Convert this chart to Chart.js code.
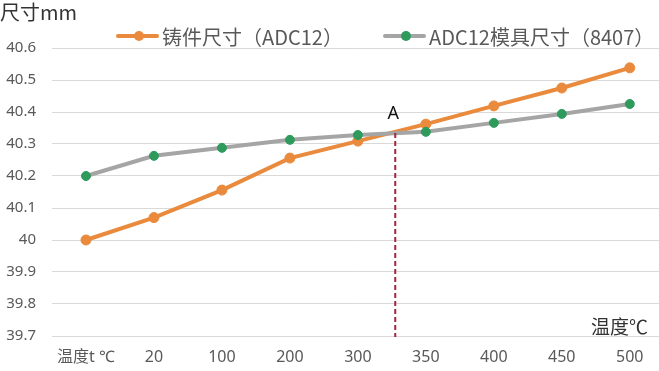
<!DOCTYPE html>
<html>
<head>
<meta charset="utf-8">
<script src="https://cdn.jsdelivr.net/npm/chart.js@4"></script>
<style>
  html, body { margin: 0; padding: 0; background: #fff; overflow: hidden; }
  canvas { display: block; }
</style>
</head>
<body>
<canvas id="myChart" width="659" height="371"></canvas>
<script>
const categories = ["温度t ℃", "20", "100", "200", "300", "350", "400", "450", "500"];
const castingSize = [40.0, 40.07, 40.156, 40.256, 40.309, 40.362, 40.419, 40.475, 40.538];
const moldSize = [40.2, 40.263, 40.288, 40.313, 40.328, 40.338, 40.366, 40.394, 40.425];
const seriesNames = ["铸件尺寸（ADC12）", "ADC12模具尺寸（8407）"];

const yMin = 39.7;
const yMax = 40.6;
const yStep = 0.1;

// plot runs off the right edge in the original, so the x range is cut short
const xMin = -0.5;
const xMax = 8.43;

// point A where the two lines cross (category index, value)
const crossX = 4.55;
const crossY = 40.334;

const orange = "#E98A3D";
const gray = "#A5A5A5";
const green = "#2E9A5C";

const cjk = "'Noto Sans CJK SC', 'Noto Sans', sans-serif";
Chart.defaults.font.family = "'Noto Sans', 'Noto Sans CJK SC', sans-serif";

const toPoints = (arr) => arr.map((v, i) => ({ x: i, y: v }));

// legend drawn by hand: line + marker + text, like the Excel one
const legendPlugin = {
  id: "lineLegend",
  afterDraw(chart) {
    const ctx = chart.ctx;
    const items = [
      { x: 118, ds: chart.data.datasets[0] },
      { x: 385, ds: chart.data.datasets[1] },
    ];
    const y = 36;
    ctx.save();
    items.forEach((it) => {
      ctx.strokeStyle = it.ds.borderColor;
      ctx.lineWidth = 4;
      ctx.lineCap = "round";
      ctx.beginPath();
      ctx.moveTo(it.x, y);
      ctx.lineTo(it.x + 39, y);
      ctx.stroke();
      ctx.fillStyle = it.ds.pointBackgroundColor;
      ctx.beginPath();
      ctx.arc(it.x + 21, y, 5, 0, Math.PI * 2);
      ctx.fill();
      ctx.fillStyle = "#595959";
      ctx.font = "20px " + cjk;
      ctx.textBaseline = "middle";
      ctx.textAlign = "left";
      ctx.fillText(it.ds.label, it.x + 44, y + 1);
    });
    ctx.restore();
  },
};

// dashed line down from point A, label A, and the x axis title
const markPlugin = {
  id: "crossMark",
  afterDatasetsDraw(chart) {
    const ctx = chart.ctx;
    const px = chart.scales.x.getPixelForValue(crossX);
    const py = chart.scales.y.getPixelForValue(crossY);
    ctx.save();
    ctx.strokeStyle = "#A3263A";
    ctx.lineWidth = 2;
    ctx.setLineDash([5, 3]);
    ctx.beginPath();
    ctx.moveTo(px, py);
    ctx.lineTo(px, chart.chartArea.bottom + 1);
    ctx.stroke();
    ctx.setLineDash([]);

    ctx.fillStyle = "#111";
    ctx.font = "18px 'Noto Sans', sans-serif";
    ctx.textAlign = "center";
    ctx.textBaseline = "middle";
    ctx.fillText("A", px - 2, py - 19);

    ctx.fillStyle = "#333";
    ctx.font = "19px " + cjk;
    ctx.textAlign = "right";
    ctx.fillText("温度℃", 648, chart.chartArea.bottom - 9);
    ctx.restore();
  },
};

const chart = new Chart("myChart", {
  type: "line",
  data: {
    datasets: [
      {
        label: seriesNames[0],
        data: toPoints(castingSize),
        borderColor: orange,
        backgroundColor: orange,
        pointBackgroundColor: orange,
        pointBorderColor: orange,
        borderWidth: 4,
        pointRadius: 5,
        pointBorderWidth: 1,
        order: 1,
      },
      {
        label: seriesNames[1],
        data: toPoints(moldSize),
        borderColor: gray,
        backgroundColor: gray,
        pointBackgroundColor: green,
        pointBorderColor: green,
        borderWidth: 4,
        pointRadius: 4.5,
        pointBorderWidth: 1,
        order: 0,
      },
    ],
  },
  options: {
    responsive: false,
    animation: false,
    layout: {
      autoPadding: false,
      padding: { left: 0, right: 0, top: 0, bottom: 0 },
    },
    plugins: {
      legend: { display: false },
      tooltip: { enabled: false },
      title: {
        display: true,
        text: "尺寸mm",
        align: "start",
        color: "#333",
        font: { size: 20, family: cjk, weight: "normal" },
        padding: { top: 0, bottom: 24 },
      },
    },
    scales: {
      x: {
        type: "linear",
        min: xMin,
        max: xMax,
        grid: { display: false, drawTicks: false },
        border: { display: false },
        afterBuildTicks(scale) {
          scale.ticks = categories.map((c, i) => ({ value: i }));
        },
        ticks: {
          color: "#595959",
          font: { size: 16 },
          padding: 12,
          maxRotation: 0,
          autoSkip: false,
          callback: (v) => categories[v],
        },
        afterFit(scale) {
          scale.height = 35;
          scale.paddingLeft = 0;
          scale.paddingRight = 0;
        },
      },
      y: {
        min: yMin,
        max: yMax,
        grid: { color: "#D9D9D9", lineWidth: 1, drawTicks: false },
        border: { display: false },
        ticks: {
          stepSize: yStep,
          color: "#595959",
          font: { size: 15 },
          padding: 16,
          callback: (v) => String(Number(v.toFixed(1))),
        },
        afterFit(scale) {
          scale.width = 52;
        },
      },
    },
  },
  plugins: [legendPlugin, markPlugin],
});
</script>
</body>
</html>
